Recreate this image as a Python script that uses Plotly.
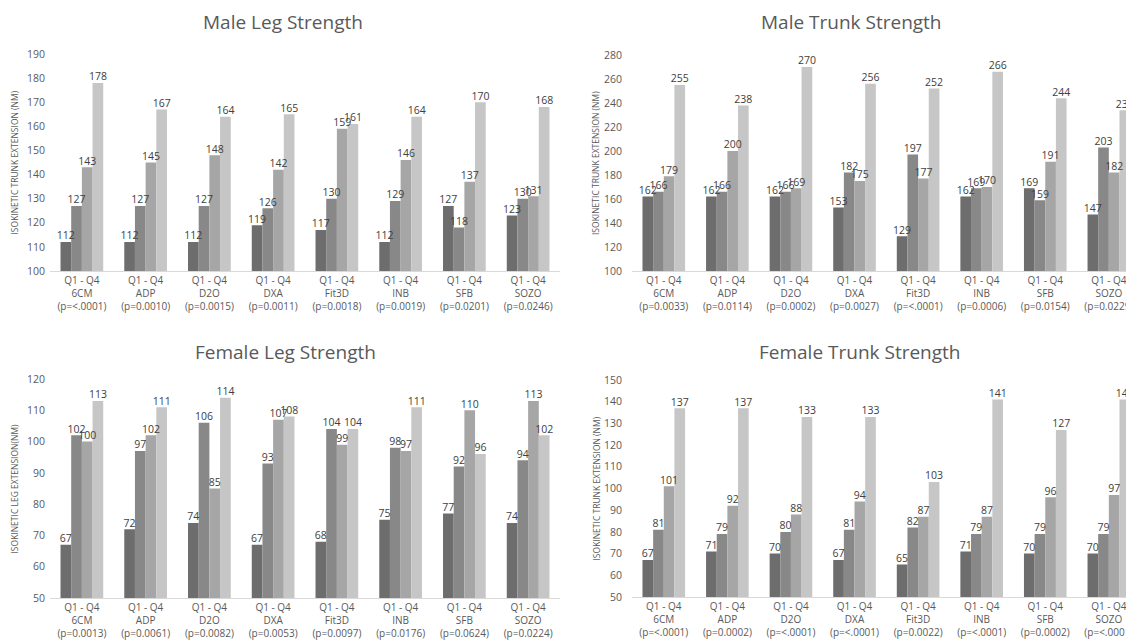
import plotly.graph_objects as go

# Methods compared in every panel (Q1 vs Q4 quartiles)
methods = ["6CM", "ADP", "D2O", "DXA", "Fit3D", "INB", "SFB", "SOZO"]
quartiles = ["Q1", "Q2", "Q3", "Q4"]

# Male leg strength (Nm), one list per quartile
male_leg_q1 = [112, 112, 112, 119, 117, 112, 127, 123]
male_leg_q2 = [127, 127, 127, 126, 130, 129, 118, 130]
male_leg_q3 = [143, 145, 148, 142, 159, 146, 137, 131]
male_leg_q4 = [178, 167, 164, 165, 161, 164, 170, 168]
male_leg_p = ["<.0001", "0.0010", "0.0015", "0.0011", "0.0018", "0.0019", "0.0201", "0.0246"]

# Male trunk strength (Nm)
male_trunk_q1 = [162, 162, 162, 153, 129, 162, 169, 147]
male_trunk_q2 = [166, 166, 166, 182, 197, 169, 159, 203]
male_trunk_q3 = [179, 200, 169, 175, 177, 170, 191, 182]
male_trunk_q4 = [255, 238, 270, 256, 252, 266, 244, 234]
male_trunk_p = ["0.0033", "0.0114", "0.0002", "0.0027", "<.0001", "0.0006", "0.0154", "0.0229"]

# Female leg strength (Nm)
female_leg_q1 = [67, 72, 74, 67, 68, 75, 77, 74]
female_leg_q2 = [102, 97, 106, 93, 104, 98, 92, 94]
female_leg_q3 = [100, 102, 85, 107, 99, 97, 110, 113]
female_leg_q4 = [113, 111, 114, 108, 104, 111, 96, 102]
female_leg_p = ["0.0013", "0.0061", "0.0082", "0.0053", "0.0097", "0.0176", "0.0624", "0.0224"]

# Female trunk strength (Nm)
female_trunk_q1 = [67, 71, 70, 67, 65, 71, 70, 70]
female_trunk_q2 = [81, 79, 80, 81, 82, 79, 79, 79]
female_trunk_q3 = [101, 92, 88, 94, 87, 87, 96, 97]
female_trunk_q4 = [137, 137, 133, 133, 103, 141, 127, 141]
female_trunk_p = ["<.0001", "0.0002", "<.0001", "<.0001", "0.0022", "<.0001", "0.0002", "<.0001"]

bar_colors = ["#6d6d6d", "#888888", "#a6a6a6", "#c6c6c6"]
FONT = "Open Sans"
GREY = "#595959"

W, H = 1126, 644
GROUP_WIDTH = 0.67               # share of each category taken by its 4 bars
BAR_W = GROUP_WIDTH / len(quartiles)

panels = [
    dict(title="Male Leg Strength", series=[male_leg_q1, male_leg_q2, male_leg_q3, male_leg_q4],
         p=male_leg_p, yrange=[100, 190], dtick=10,
         ytitle="ISOKINETIC TRUNK EXTENSION (NM)",
         px=(50, 560), py=(54, 271), title_xy=(283, 22), ytitle_x=14, xrange=[-0.5, 7.5]),
    dict(title="Male Trunk Strength", series=[male_trunk_q1, male_trunk_q2, male_trunk_q3, male_trunk_q4],
         p=male_trunk_p, yrange=[100, 280], dtick=20,
         ytitle="ISOKINETIC TRUNK EXTENSION (NM)",
         px=(632, 1126), py=(55, 271), title_xy=(851, 22), ytitle_x=596, xrange=[-0.5, 7.27]),
    dict(title="Female Leg Strength", series=[female_leg_q1, female_leg_q2, female_leg_q3, female_leg_q4],
         p=female_leg_p, yrange=[50, 120], dtick=10,
         ytitle="ISOKINETIC LEG EXTENSION(NM)",
         px=(50, 560), py=(379, 598), title_xy=(285, 352), ytitle_x=14, xrange=[-0.5, 7.5]),
    dict(title="Female Trunk Strength", series=[female_trunk_q1, female_trunk_q2, female_trunk_q3, female_trunk_q4],
         p=female_trunk_p, yrange=[50, 150], dtick=10,
         ytitle="ISOKINETIC TRUNK EXTENSION (NM)",
         px=(632, 1126), py=(380, 597), title_xy=(860, 352), ytitle_x=596, xrange=[-0.5, 7.27]),
]

fig = go.Figure()
annotations = []
layout = {}
idx = list(range(len(methods)))

for i, pnl in enumerate(panels):
    n = "" if i == 0 else str(i + 1)
    xa, ya = "x" + n, "y" + n
    # bars first, one trace per quartile, side by side inside each method
    for q, vals in enumerate(pnl["series"]):
        xs = [k + (q - 1.5) * BAR_W for k in idx]
        fig.add_trace(go.Bar(
            x=xs, y=vals, width=BAR_W, name=quartiles[q], xaxis=xa, yaxis=ya,
            marker=dict(color=bar_colors[q], line=dict(width=0)),
            showlegend=False, hoverinfo="skip",
        ))
    # value labels drawn afterwards so they sit above every bar
    for q, vals in enumerate(pnl["series"]):
        xs = [k + (q - 1.5) * BAR_W for k in idx]
        fig.add_trace(go.Scatter(
            x=xs, y=vals, mode="text", text=[str(v) for v in vals],
            textposition="top center", xaxis=xa, yaxis=ya,
            textfont=dict(family=FONT, size=10.5, color="#404040"),
            cliponaxis=False, showlegend=False, hoverinfo="skip",
        ))
    ticktext = ["Q1 - Q4<br>%s<br>(p=%s)" % (m, pv.replace("<", "&lt;"))
                for m, pv in zip(methods, pnl["p"])]
    x0, x1 = pnl["px"]
    y0, y1 = pnl["py"]
    layout["xaxis" + n] = dict(
        domain=[x0 / W, x1 / W], anchor=ya,
        range=pnl["xrange"], tickmode="array", tickvals=idx, ticktext=ticktext,
        tickfont=dict(family=FONT, size=10, color=GREY),
        ticklabeloverflow="allow",
        showline=True, linecolor="#d9d9d9", linewidth=1, ticks="",
        showgrid=False, zeroline=False, automargin=False, fixedrange=True,
    )
    layout["yaxis" + n] = dict(
        domain=[1 - y1 / H, 1 - y0 / H], anchor=xa,
        range=pnl["yrange"], dtick=pnl["dtick"], tick0=0,
        tickfont=dict(family=FONT, size=10.5, color=GREY),
        showgrid=False, zeroline=False, showline=False, ticks="",
        ticklabelstandoff=4 if x0 < 300 else 9,
        automargin=False, fixedrange=True,
    )
    tx, ty = pnl["title_xy"]
    annotations.append(dict(
        text=pnl["title"], x=tx / W, y=1 - ty / H, xref="paper", yref="paper",
        xanchor="center", yanchor="middle", showarrow=False,
        font=dict(family=FONT, size=19, color=GREY),
    ))
    annotations.append(dict(
        text=pnl["ytitle"], x=pnl["ytitle_x"] / W, y=1 - (y0 + y1) / 2 / H,
        xref="paper", yref="paper", xanchor="center", yanchor="middle",
        textangle=-90, showarrow=False,
        font=dict(family=FONT, size=8.5, color=GREY),
    ))

fig.update_layout(
    width=W, height=H,
    margin=dict(l=0, r=0, t=0, b=0),
    paper_bgcolor="white", plot_bgcolor="white",
    barmode="overlay",
    annotations=annotations,
    **layout,
)

fig.write_html("out.html")
